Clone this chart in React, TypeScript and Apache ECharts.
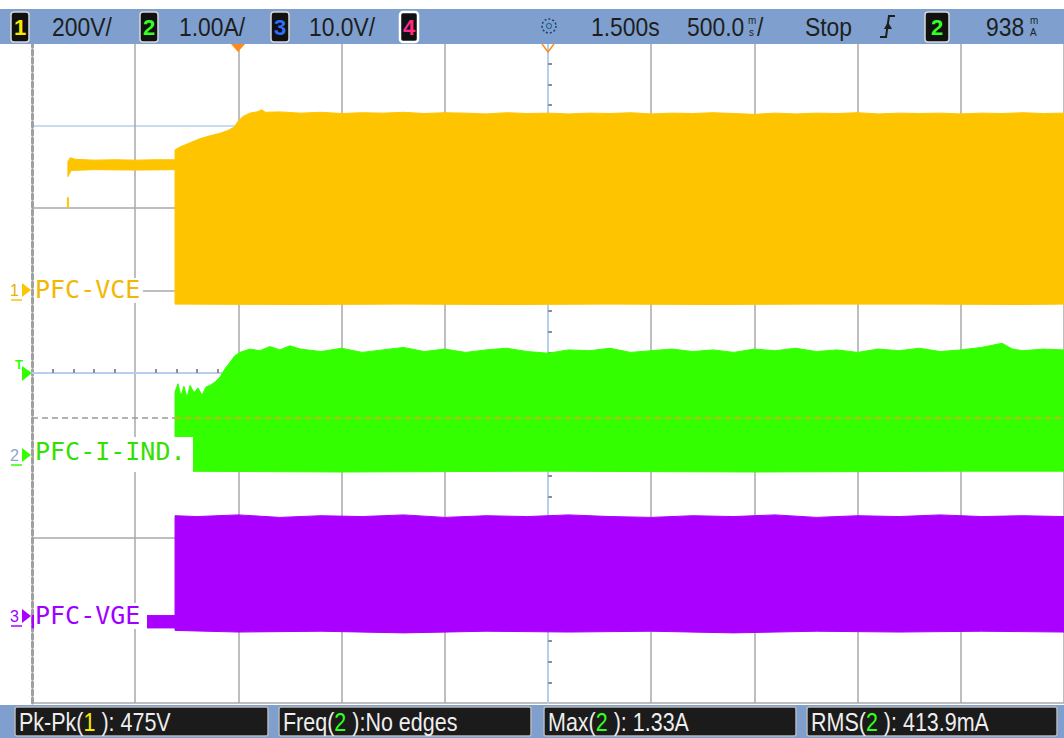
import React, { useEffect, useRef } from "react";
import * as echarts from "echarts";

// ---------- scales ----------
// Time base 500 ms/div, 10 divisions, 1.500 s delay at centre
const TIME_MIN = -1.0;
const TIME_MAX = 4.0;
// value at bottom / top of the 8-division screen for each channel
const CH1_RANGE = [-1000, 600]; // 200 V/div
const CH2_RANGE = [-3, 5]; // 1.00 A/div
const CH3_RANGE = [-10, 70]; // 10.0 V/div

// ---------- channel 1 : PFC-VCE (V) ----------
const CH1_UPPER: number[][] = [
  [-0.826, 312], [-0.815, 322], [-0.79, 318], [-0.7, 316], [-0.6, 317], [-0.5, 316], [-0.4, 317],
  [-0.307, 317], [-0.307, 341], [-0.283, 348], [-0.234, 358], [-0.186, 368], [-0.138, 375],
  [-0.089, 381], [-0.05, 388], [-0.021, 396], [-0.002, 410], [0.022, 422], [0.056, 430],
  [0.09, 433], [0.114, 438], [0.13, 432], [0.2, 433], [0.3, 430], [0.4, 432], [0.5, 429],
  [0.6, 431], [0.7, 430], [0.8, 432], [0.9, 429], [1.0, 431], [1.1, 430], [1.2, 428],
  [1.3, 431], [1.4, 429], [1.5, 430], [1.6, 428], [1.7, 430], [1.8, 429], [1.9, 431],
  [2.0, 428], [2.1, 430], [2.2, 429], [2.3, 431], [2.4, 429], [2.5, 427], [2.6, 430],
  [2.7, 428], [2.8, 430], [2.9, 429], [3.0, 431], [3.1, 428], [3.2, 430], [3.3, 429],
  [3.4, 430], [3.5, 428], [3.6, 430], [3.7, 429], [3.8, 431], [3.9, 429], [4.0, 430],
];
const CH1_LOWER: number[][] = [
  [-0.826, 276], [-0.81, 291], [-0.7, 293], [-0.5, 292], [-0.307, 293], [-0.307, -33],
  [0.3, -34], [0.8, -33], [1.3, -34], [1.8, -33], [2.3, -34], [2.8, -33], [3.3, -33],
  [3.8, -34], [4.0, -33],
];
const CH1_STEP: number[][] = [[-0.826, 200], [-0.826, 226]];

// ---------- channel 2 : PFC-I-IND. (A) ----------
const CH2_UPPER: number[][] = [
  [-0.307, 0.77], [-0.293, 0.87], [-0.278, 0.72], [-0.264, 0.84], [-0.249, 0.7], [-0.234, 0.85],
  [-0.215, 0.76], [-0.196, 0.82], [-0.176, 0.73], [-0.157, 0.83], [-0.138, 0.85], [-0.113, 0.89],
  [-0.089, 0.95], [-0.065, 1.05], [-0.041, 1.13], [-0.017, 1.21], [0.008, 1.25], [0.056, 1.29],
  [0.104, 1.27], [0.153, 1.32], [0.201, 1.28], [0.249, 1.33], [0.3, 1.29], [0.4, 1.26],
  [0.5, 1.3], [0.6, 1.25], [0.7, 1.28], [0.8, 1.31], [0.9, 1.26], [1.0, 1.29], [1.1, 1.25],
  [1.2, 1.28], [1.3, 1.3], [1.4, 1.26], [1.5, 1.24], [1.6, 1.28], [1.7, 1.27], [1.8, 1.3],
  [1.9, 1.25], [2.0, 1.27], [2.1, 1.29], [2.2, 1.26], [2.3, 1.28], [2.4, 1.25], [2.5, 1.29],
  [2.6, 1.27], [2.7, 1.3], [2.8, 1.26], [2.9, 1.28], [3.0, 1.25], [3.1, 1.29], [3.2, 1.27],
  [3.3, 1.3], [3.4, 1.26], [3.5, 1.28], [3.6, 1.31], [3.7, 1.36], [3.75, 1.29], [3.8, 1.27],
  [3.9, 1.29], [4.0, 1.28],
];
const CH2_LOWER: number[][] = [
  [-0.307, -0.19], [0.5, -0.2], [1.5, -0.19], [2.5, -0.2], [3.5, -0.19], [4.0, -0.19],
];
const CH2_LEVEL = 0.455;
const CH2_START = -0.307;

// ---------- channel 3 : PFC-VGE (V) ----------
const CH3_UPPER: number[][] = [
  [-1.0, 0.6], [-0.307, 0.6], [-0.307, 12.7], [-0.2, 12.6], [0.0, 12.8], [0.2, 12.5],
  [0.4, 12.7], [0.6, 12.6], [0.8, 12.8], [1.0, 12.5], [1.2, 12.7], [1.4, 12.6], [1.6, 12.8],
  [1.8, 12.6], [2.0, 12.5], [2.2, 12.7], [2.4, 12.6], [2.6, 12.8], [2.8, 12.5], [3.0, 12.7],
  [3.2, 12.6], [3.4, 12.8], [3.6, 12.6], [3.8, 12.7], [4.0, 12.6],
];
const CH3_LOWER: number[][] = [
  [-1.0, -0.9], [-0.307, -0.9], [-0.307, -1.2], [0.0, -1.4], [0.4, -1.3], [0.8, -1.5],
  [1.2, -1.3], [1.6, -1.4], [2.0, -1.3], [2.4, -1.5], [2.8, -1.3], [3.2, -1.4], [3.6, -1.3],
  [4.0, -1.4],
];

// ---------- texts ----------
const CHANNEL_NAMES = ["PFC-VCE", "PFC-I-IND.", "PFC-VGE"];
const SCALE_TEXTS = ["200V/", "1.00A/", "10.0V/"];
const MEASUREMENTS = [
  ["Pk-Pk(", "1", " ): 475V"],
  ["Freq(", "2", " ):No edges"],
  ["Max(", "2", " ): 1.33A"],
  ["RMS(", "2", " ): 413.9mA"],
];

const C1 = "#ffc400";
const C2 = "#33ff00";
const C3 = "#aa00ff";
const BAR = "#7fa0ce";
const GRID_GRAY = "#a8a8a8";
const AXIS_BLUE = "#b6cfec";
const DIGIT_COLORS: Record<string, string> = { "1": "#f6ea00", "2": "#33ff22", "3": "#2f6dff", "4": "#ff2a8a" };
const SANS = "Liberation Sans";
const MONO = "DejaVu Sans Mono";

function band(upper: number[][], lower: number[][], yAxisIndex: number, color: string) {
  return {
    type: "custom",
    coordinateSystem: "cartesian2d",
    xAxisIndex: 1,
    yAxisIndex,
    silent: true,
    z: 2,
    data: upper,
    renderItem: (params: any, api: any) => {
      if (params.dataIndex !== 0) return null;
      const pts = upper.concat(lower.slice().reverse()).map((p) => api.coord(p));
      return {
        type: "polygon",
        shape: { points: pts },
        style: { fill: color, stroke: color, lineWidth: 1 },
      };
    },
  };
}

function barText(text: string, x: number, y: number, size = 26, color = "#1e1e1e", sx = 0.88) {
  return {
    type: "text",
    x,
    y,
    scaleX: sx,
    z: 52,
    style: { text, fontSize: size, fontFamily: SANS, fill: color, verticalAlign: "middle", align: "left" },
  };
}

function badge(d: string, x: number, w = 18, stroke = "#d8d8d8", lw = 1.5) {
  return [
    {
      type: "rect",
      z: 51,
      shape: { x, y: 12, width: w, height: 30, r: 3 },
      style: { fill: "#111111", stroke, lineWidth: lw },
    },
    {
      type: "text",
      x: x + w / 2,
      y: 27,
      z: 52,
      style: {
        text: d, fontSize: 22, fontWeight: "bold", fontFamily: SANS, fill: DIGIT_COLORS[d],
        align: "center", verticalAlign: "middle",
      },
    },
  ];
}

function chanMarker(d: string, y: number, color: string, digitColor: string) {
  return [
    {
      type: "text", x: 10, y, z: 60,
      style: { text: d, fontSize: 16, fontFamily: SANS, fill: digitColor, verticalAlign: "middle" },
    },
    { type: "line", z: 60, shape: { x1: 11, y1: y + 10, x2: 22, y2: y + 10 }, style: { stroke: color, lineWidth: 1.5 } },
    { type: "polygon", z: 60, shape: { points: [[22, y - 7], [31, y], [22, y + 7]] }, style: { fill: color } },
  ];
}

function chanLabel(text: string, y: number, color: string, bg: number[]) {
  return [
    { type: "rect", z: 59, shape: { x: bg[0], y: bg[1], width: bg[2], height: bg[3] }, style: { fill: "#ffffff" } },
    {
      type: "text", x: 35, y, z: 60,
      style: { text, fontSize: 25, fontFamily: MONO, fill: color, verticalAlign: "middle" },
    },
  ];
}

const MEAS_BOXES = [
  [15, 253],
  [279, 252],
  [544, 252],
  [807, 250],
];

export default function App() {
  const ref = useRef<HTMLDivElement>(null);
  useEffect(() => {
    document.body.style.margin = "0";
    if (!ref.current) return;
    const chart = echarts.init(ref.current, null, { renderer: "svg" });

    const xColors = ["transparent", GRID_GRAY, GRID_GRAY, GRID_GRAY, GRID_GRAY, AXIS_BLUE, GRID_GRAY, GRID_GRAY, GRID_GRAY, GRID_GRAY, GRID_GRAY];
    const yColors = [GRID_GRAY, GRID_GRAY, GRID_GRAY, GRID_GRAY, AXIS_BLUE, GRID_GRAY, GRID_GRAY, AXIS_BLUE, GRID_GRAY];

    const graphics: any[] = [
      { type: "rect", z: 50, shape: { x: 0, y: 9, width: 1064, height: 35 }, style: { fill: BAR } },
      { type: "rect", z: 50, shape: { x: 0, y: 705, width: 1064, height: 33 }, style: { fill: BAR } },
      ...badge("1", 11),
      barText(SCALE_TEXTS[0], 52, 27),
      ...badge("2", 140),
      barText(SCALE_TEXTS[1], 179, 27),
      ...badge("3", 271),
      barText(SCALE_TEXTS[2], 309, 27),
      ...badge("4", 400, 18, "#ffffff", 2.5),
      // acquisition icon
      { type: "circle", z: 52, shape: { cx: 549, cy: 26, r: 7 }, style: { fill: "none", stroke: "#1f3f6a", lineWidth: 1.5, lineDash: [2, 2] } },
      { type: "circle", z: 52, shape: { cx: 549, cy: 26, r: 2.5 }, style: { fill: "none", stroke: "#2a6a8a", lineWidth: 1.2 } },
      barText("1.500s", 591, 27),
      barText("500.0", 687, 27),
      barText("m", 748, 20, 11, "#1e1e1e", 0.9),
      barText("s", 749, 32, 11, "#1e1e1e", 0.9),
      barText("/", 757, 27),
      barText("Stop", 805, 27),
      // trigger slope symbol
      { type: "polyline", z: 52, shape: { points: [[880, 37], [886, 37], [889, 16], [895, 16]] }, style: { stroke: "#1e1e1e", lineWidth: 2, fill: "none" } },
      { type: "polygon", z: 52, shape: { points: [[884, 29], [892, 29], [888, 22]] }, style: { fill: "#1e1e1e" } },
      ...badge("2", 925, 24),
      barText("938", 986, 27),
      barText("m", 1030, 20, 11, "#1e1e1e", 0.9),
      barText("A", 1030, 32, 11, "#1e1e1e", 0.9),
      // trigger position & centre markers
      { type: "polygon", z: 52, shape: { points: [[231, 44], [245, 44], [238, 52]] }, style: { fill: "#ff8c1a" } },
      { type: "polyline", z: 52, shape: { points: [[542, 44], [548, 52], [554, 44]] }, style: { stroke: "#ff8c1a", lineWidth: 1.5, fill: "none" } },
      // trigger level marker
      { type: "text", x: 15, y: 364, z: 60, style: { text: "T", fontSize: 13, fontWeight: "bold", fontFamily: SANS, fill: C2, verticalAlign: "middle" } },
      { type: "polygon", z: 60, shape: { points: [[22, 366], [32, 373], [22, 381]] }, style: { fill: C2 } },
      ...chanLabel(CHANNEL_NAMES[0], 289, "#f2b800", [34, 278, 109, 25]),
      ...chanLabel(CHANNEL_NAMES[1], 451, "#33e000", [34, 437, 159, 35]),
      ...chanLabel(CHANNEL_NAMES[2], 615, "#a000ff", [34, 603, 113, 26]),
      ...chanMarker("1", 290, C1, "#e8b000"),
      ...chanMarker("2", 455, C2, "#8aa8c8"),
      ...chanMarker("3", 616, C3, "#a000ff"),
    ];

    MEASUREMENTS.forEach((m, i) => {
      const [bx, bw] = MEAS_BOXES[i];
      graphics.push({
        type: "rect", z: 51,
        shape: { x: bx, y: 707, width: bw, height: 29, r: 2 },
        style: { fill: "#1b1b1b", stroke: "#b8b8b8", lineWidth: 1.5 },
      });
      graphics.push({
        type: "text", x: bx + 4, y: 722, scaleX: 0.86, z: 52,
        style: {
          text: `{w|${m[0]}}{c|${m[1]}}{w|${m[2]}}`,
          verticalAlign: "middle",
          rich: {
            w: { fill: "#eeeeee", fontSize: 25, fontFamily: SANS },
            c: { fill: DIGIT_COLORS[m[1]], fontSize: 25, fontFamily: SANS },
          },
        },
      });
    });

    const hidden = (min: number, max: number) => ({
      type: "value", min, max, show: false, axisLine: { onZero: false },
    });

    chart.setOption({
      animation: false,
      backgroundColor: "#ffffff",
      grid: { left: 32, right: 0, top: 43, bottom: 35 },
      xAxis: [
        {
          type: "value", min: -5, max: 5, interval: 1,
          axisLine: { show: false, onZero: false }, axisTick: { show: false }, axisLabel: { show: false },
          splitLine: { show: true, lineStyle: { color: xColors, width: 1.5 } },
        },
        { ...hidden(TIME_MIN, TIME_MAX) },
        {
          type: "value", min: -5, max: 5, interval: 1,
          axisLine: { show: true, onZero: true, onZeroAxisIndex: 0, lineStyle: { color: AXIS_BLUE, width: 2 } },
          axisTick: { show: false },
          minorTick: { show: true, splitNumber: 5, length: 4, lineStyle: { color: "#8f8f8f", width: 2 } },
          axisLabel: { show: false }, splitLine: { show: false },
        },
      ],
      yAxis: [
        {
          type: "value", min: -4, max: 4, interval: 1, position: "left",
          axisLine: { show: true, onZero: false, lineStyle: { color: "#a0a0a0", width: 3, type: [5, 3] } },
          axisTick: { show: false }, axisLabel: { show: false },
          splitLine: { show: true, lineStyle: { color: yColors, width: 1.5 } },
        },
        {
          type: "value", min: -4, max: 4, interval: 1,
          axisLine: { show: true, onZero: true, onZeroAxisIndex: 0, lineStyle: { color: AXIS_BLUE, width: 2 } },
          axisTick: { show: false },
          minorTick: { show: true, splitNumber: 4, length: 4, lineStyle: { color: "#8f8f8f", width: 2 } },
          axisLabel: { show: false }, splitLine: { show: false },
        },
        { ...hidden(CH1_RANGE[0], CH1_RANGE[1]) },
        { ...hidden(CH2_RANGE[0], CH2_RANGE[1]) },
        { ...hidden(CH3_RANGE[0], CH3_RANGE[1]) },
      ],
      series: [
        band(CH1_UPPER, CH1_LOWER, 2, C1),
        band(CH2_UPPER, CH2_LOWER, 3, C2),
        band(CH3_UPPER, CH3_LOWER, 4, C3),
        {
          type: "line", xAxisIndex: 1, yAxisIndex: 2, data: CH1_STEP, symbol: "none", silent: true, z: 3,
          lineStyle: { color: C1, width: 2 },
        },
        {
          type: "line", xAxisIndex: 1, yAxisIndex: 3, data: [[TIME_MIN, CH2_LEVEL], [CH2_START, CH2_LEVEL]],
          symbol: "none", silent: true, z: 3, lineStyle: { color: "#9a9a9a", width: 1.5, type: [6, 4] },
        },
        {
          type: "line", xAxisIndex: 1, yAxisIndex: 3, data: [[CH2_START, CH2_LEVEL], [TIME_MAX, CH2_LEVEL]],
          symbol: "none", silent: true, z: 4, lineStyle: { color: "#ff9a1f", width: 1.5, type: [6, 4] },
        },
      ],
      graphic: graphics,
    });
    return () => chart.dispose();
  }, []);
  return <div ref={ref} style={{ width: 1064, height: 738 }} />;
}
